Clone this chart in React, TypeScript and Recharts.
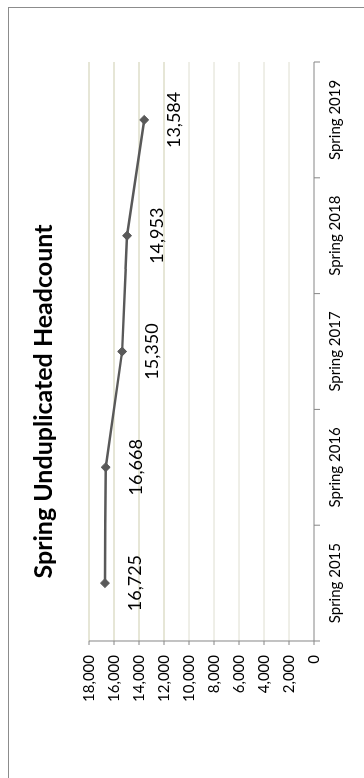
import React from 'react'
import { LineChart, Line, XAxis, YAxis, ReferenceLine } from 'recharts'

const categories = ['Spring 2015', 'Spring 2016', 'Spring 2017', 'Spring 2018', 'Spring 2019']
const headcount = [16725, 16668, 15350, 14953, 13584]
const valueTicks = [0, 2000, 4000, 6000, 8000, 10000, 12000, 14000, 16000, 18000]

const W = 778
const H = 364
const AXIS = '#868686'
const SERIES = '#595959'

const data = categories.map((name, i) => ({ pos: i + 0.5, name, value: headcount[i] }))
const catTicks = [...categories.flatMap((_, i) => [i, i + 0.5]), categories.length]

const fmt = (v: number) => v.toLocaleString('en-US')
const gridColor = (v: number) => (v >= 12000 ? '#cdcdae' : '#deded0')

function CategoryTick({ x, y, payload }: { x?: number; y?: number; payload?: { value: number } }) {
  const v = payload?.value ?? 0
  if (Number.isInteger(v)) {
    return <line x1={x} x2={x} y1={y} y2={(y ?? 0) + 6} stroke={AXIS} strokeWidth={1} />
  }
  return (
    <text x={x} y={(y ?? 0) + 26} textAnchor="middle" fontSize={15} fill="#000">
      {categories[v - 0.5]}
    </text>
  )
}

function Diamond({ cx, cy, index }: { cx?: number; cy?: number; index?: number }) {
  const r = 4.5
  return (
    <path
      key={`d-${index}`}
      d={`M${cx},${(cy ?? 0) - r} L${(cx ?? 0) + r},${cy} L${cx},${(cy ?? 0) + r} L${(cx ?? 0) - r},${cy} Z`}
      fill={SERIES}
      stroke={SERIES}
    />
  )
}

function ValueLabel({ x, y, value, index }: { x?: number; y?: number; value?: number; index?: number }) {
  return (
    <text key={`l-${index}`} x={x} y={(y ?? 0) + 36} textAnchor="middle" fontSize={18} fill="#000">
      {fmt(Number(value))}
    </text>
  )
}

export default function App() {
  return (
    <div
      style={{
        position: 'fixed',
        left: 0,
        top: 0,
        width: W,
        height: H,
        background: '#fff',
        transformOrigin: '0 0',
        transform: `translateY(${W}px) rotate(-90deg)`,
        fontFamily: 'Lato, "Open Sans", sans-serif',
      }}
    >
      <div
        style={{
          position: 'absolute',
          left: 0,
          top: 8,
          width: 771,
          height: H - 8,
          boxSizing: 'border-box',
          borderTop: '1px solid #8c8c8c',
          borderRight: '1px solid #8c8c8c',
        }}
      />
      <svg width={W} height={H} style={{ position: 'absolute', left: 0, top: 0 }}>
        <text x={376.5} y={52} textAnchor="middle" fontSize={25} fontWeight={700} fill="#000">
          Spring Unduplicated Headcount
        </text>
      </svg>
      <div style={{ position: 'absolute', left: 0, top: 0 }}>
        <LineChart width={W} height={H} data={data} margin={{ top: 89, right: 62, bottom: 0, left: 0 }}>
          <XAxis
            type="number"
            dataKey="pos"
            domain={[0, categories.length]}
            ticks={catTicks}
            interval={0}
            tickSize={0}
            tickMargin={0}
            tickLine={false}
            height={50}
            axisLine={{ stroke: AXIS }}
            tick={<CategoryTick />}
          />
          <YAxis
            type="number"
            domain={[0, 18000]}
            ticks={valueTicks}
            interval={0}
            width={137}
            tickSize={4}
            tickMargin={10}
            tickFormatter={fmt}
            axisLine={{ stroke: AXIS }}
            tickLine={{ stroke: AXIS }}
            tick={{ fontSize: 15, fill: '#000' }}
          />
          {valueTicks
            .filter((v) => v > 0)
            .map((v) => (
              <ReferenceLine key={v} y={v} stroke={gridColor(v)} strokeWidth={1} ifOverflow="visible" />
            ))}
          <Line
            dataKey="value"
            stroke={SERIES}
            strokeWidth={2.5}
            dot={<Diamond />}
            activeDot={false}
            label={<ValueLabel />}
            isAnimationActive={false}
          />
        </LineChart>
      </div>
    </div>
  )
}
